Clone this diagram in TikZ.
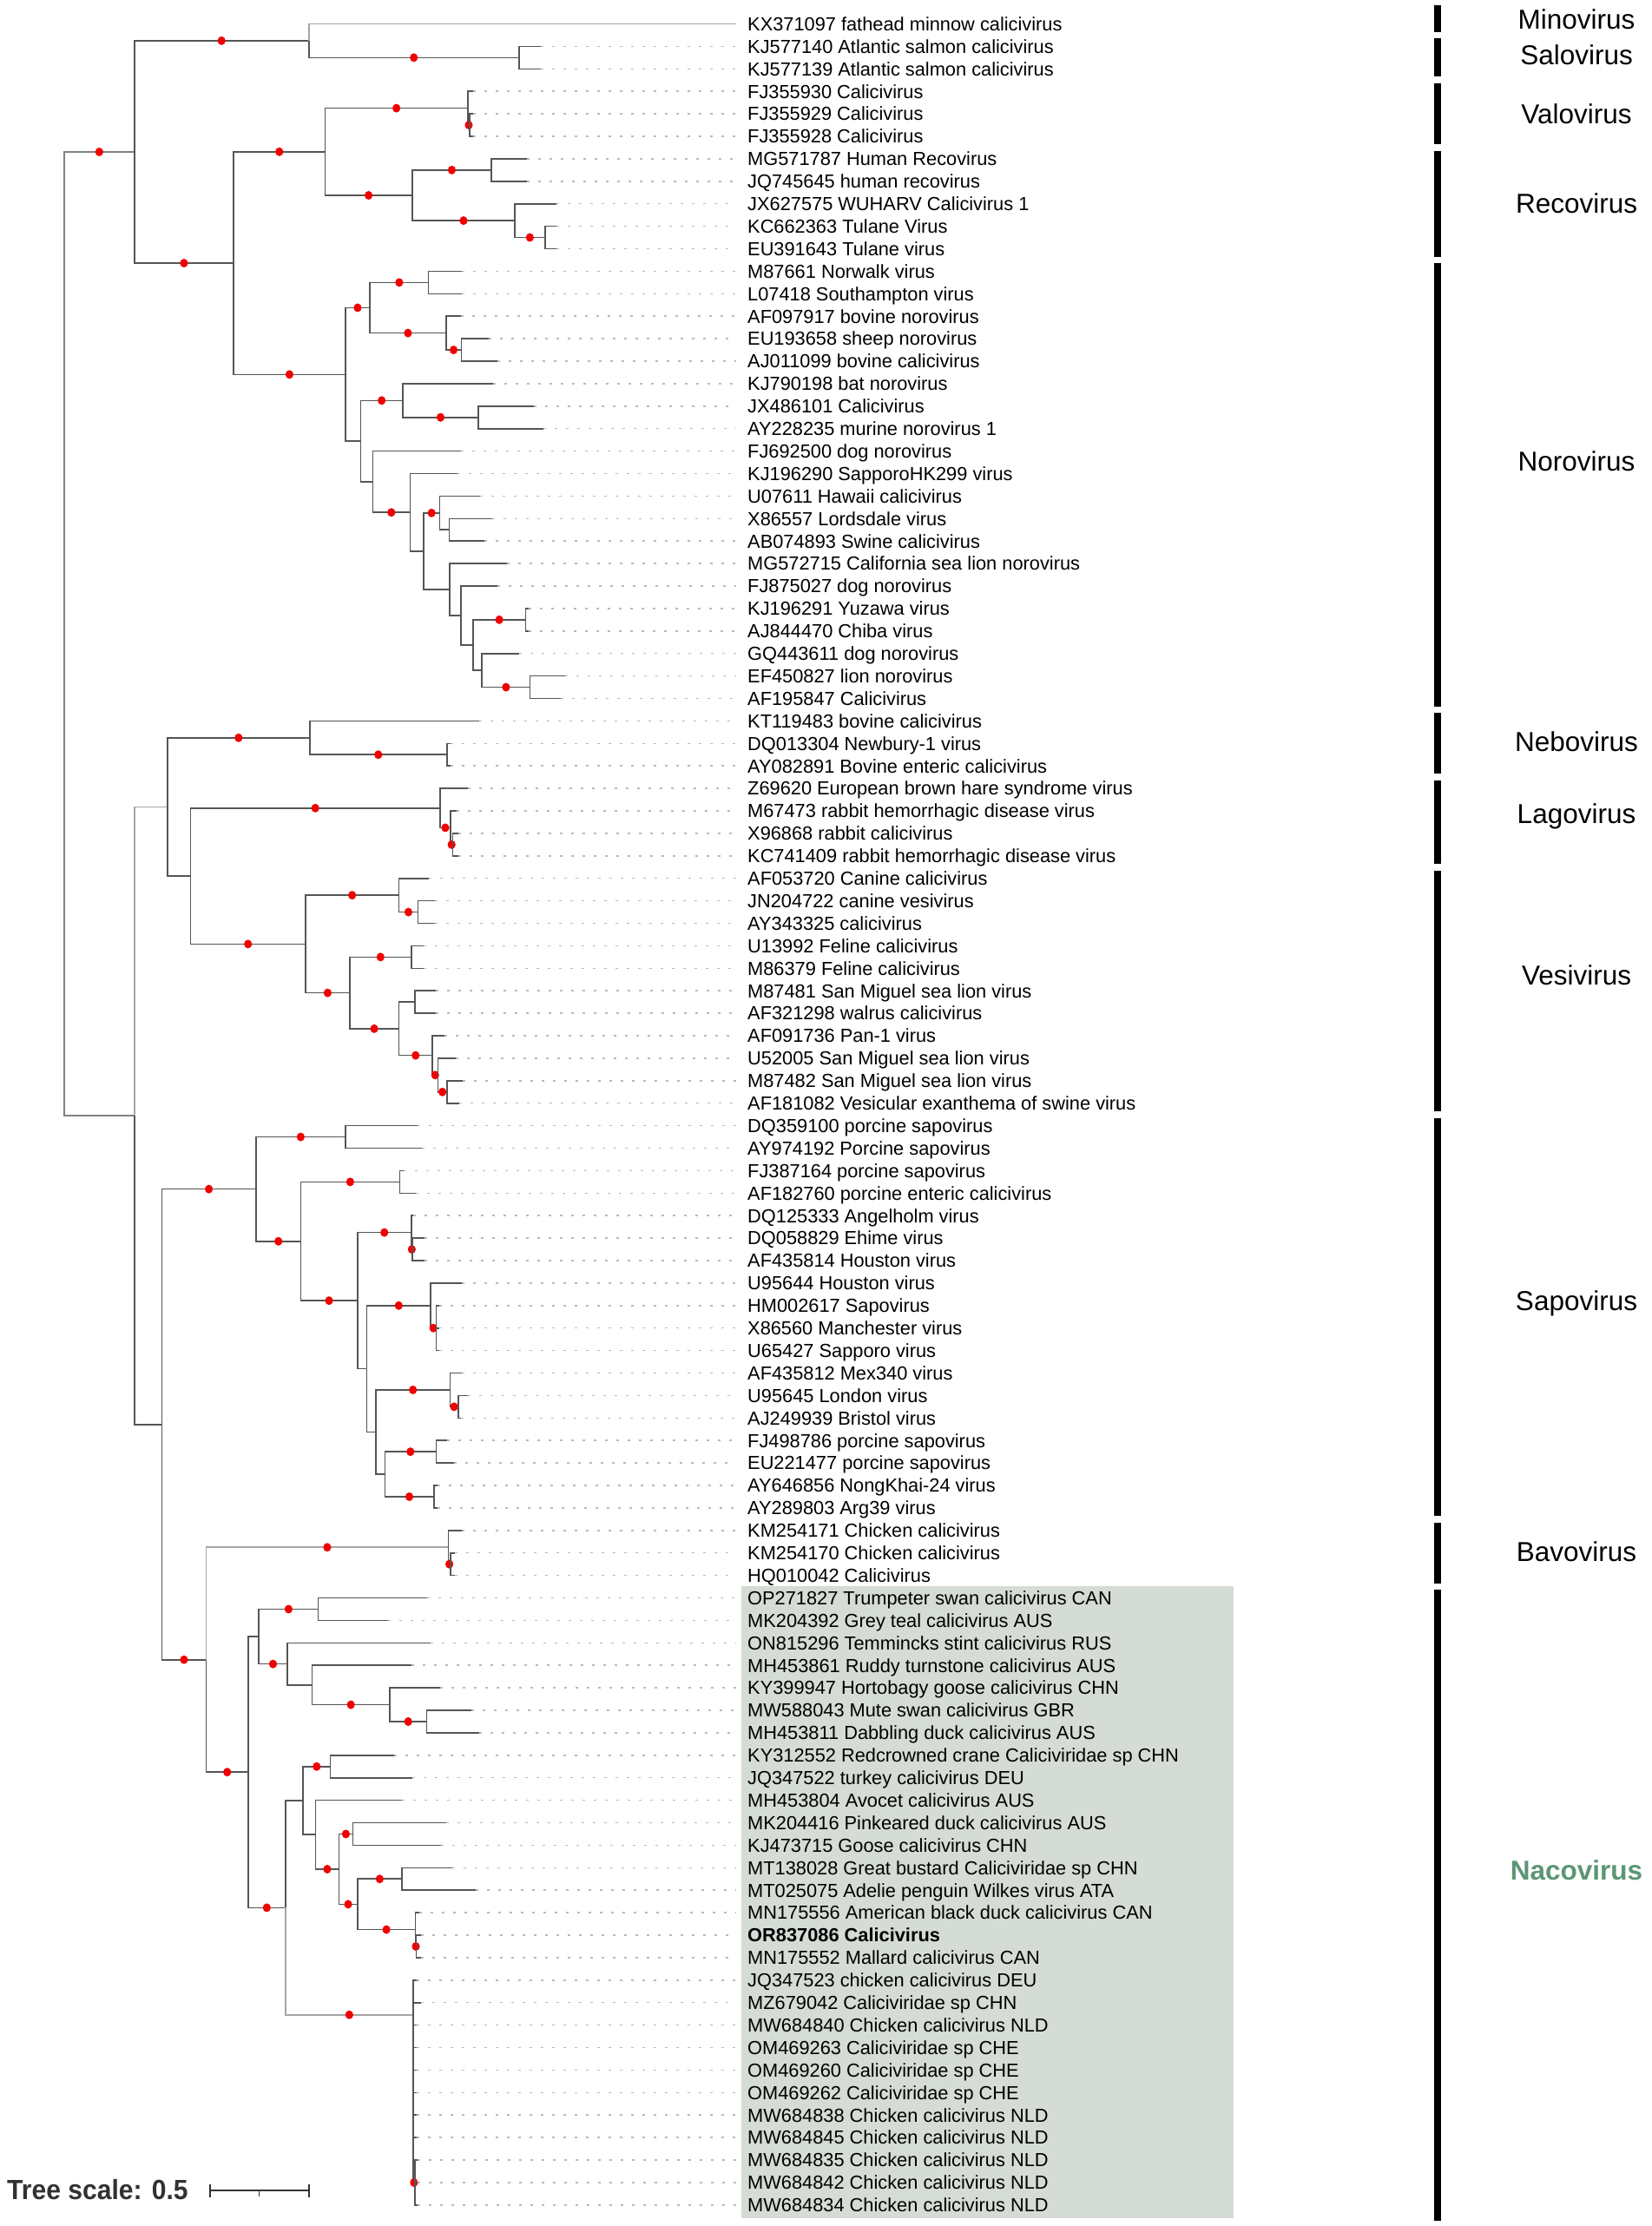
\documentclass[tikz,border=0pt]{standalone}
\usepackage{fontspec}
\setmainfont{Liberation Sans}
\usetikzlibrary{calc}
\definecolor{brc}{RGB}{85,85,85}
\definecolor{brl}{RGB}{165,165,165}
\definecolor{leadc}{RGB}{185,185,185}
\definecolor{boxc}{RGB}{213,219,213}
\definecolor{nacoc}{RGB}{92,150,116}
\definecolor{dotc}{RGB}{240,0,0}
\definecolor{scalec}{RGB}{50,50,50}
\newcommand\tleaf[3]{%
  \coordinate (L#1) at (#2,#1);
  \node[lab] (T#1) at (848,#1) {#3};
  \draw[lead] (L#1) -- (T#1.west);}
\newcommand\inode[4]{\path let \p1=(#3), \p2=(#4) in ({#2pt},{0.5*(\y1+\y2)}) coordinate (#1);}
\newcommand\tbr[3][]{\draw[br,#1] (#2) |- (#3);}
\newcommand\tbrd[3][]{\draw[br,#1] (#2) |- (#3); \fill[dotc] ($(#2 |- #3)!0.5!(#3)$) ellipse (4.6pt and 5pt);}
\newcommand\cladebar[2]{\fill[black] (1652.3,#1) rectangle (1660,#2);}
\begin{document}
\begin{tikzpicture}[x=1pt,y=-25.9pt,
  br/.style={draw=brc,line width=1.6pt},
  light/.style={draw=brl},
  lead/.style={draw=leadc,line width=1.5pt,dash pattern=on 3pt off 10pt},
  lab/.style={anchor=west,inner xsep=13pt,inner ysep=0pt,text height=15.6pt,text depth=0pt,font=\fontsize{21.8}{24}\selectfont},
  clab/.style={anchor=center,inner sep=0pt,text height=22.6pt,text depth=0pt,font=\fontsize{31.5}{34}\selectfont}]
\useasboundingbox (0,-0.0618) rectangle (1902,98.934);
\fill[boxc] (853.7,70.47) rectangle (1421,98.57);
% leaves
\tleaf{1}{848}{KX371097 fathead minnow calicivirus}
\tleaf{2}{622.5}{KJ577140 Atlantic salmon calicivirus}
\tleaf{3}{622.5}{KJ577139 Atlantic salmon calicivirus}
\tleaf{4}{545}{FJ355930 Calicivirus}
\tleaf{5}{545}{FJ355929 Calicivirus}
\tleaf{6}{545}{FJ355928 Calicivirus}
\tleaf{7}{607}{MG571787 Human Recovirus}
\tleaf{8}{607}{JQ745645 human recovirus}
\tleaf{9}{640.7}{JX627575 WUHARV Calicivirus 1}
\tleaf{10}{640.7}{KC662363 Tulane Virus}
\tleaf{11}{640.7}{EU391643 Tulane virus}
\tleaf{12}{531.9}{M87661 Norwalk virus}
\tleaf{13}{531.9}{L07418 Southampton virus}
\tleaf{14}{530.8}{AF097917 bovine norovirus}
\tleaf{15}{563}{EU193658 sheep norovirus}
\tleaf{16}{573.3}{AJ011099 bovine calicivirus}
\tleaf{17}{568}{KJ790198 bat norovirus}
\tleaf{18}{614.8}{JX486101 Calicivirus}
\tleaf{19}{626}{AY228235 murine norovirus 1}
\tleaf{20}{530.8}{FJ692500 dog norovirus}
\tleaf{21}{526.7}{KJ196290 SapporoHK299 virus}
\tleaf{22}{552.6}{U07611 Hawaii calicivirus}
\tleaf{23}{566.6}{X86557 Lordsdale virus}
\tleaf{24}{557.8}{AB074893 Swine calicivirus}
\tleaf{25}{583.7}{MG572715 California sea lion norovirus}
\tleaf{26}{573.3}{FJ875027 dog norovirus}
\tleaf{27}{609}{KJ196291 Yuzawa virus}
\tleaf{28}{609}{AJ844470 Chiba virus}
\tleaf{29}{598}{GQ443611 dog norovirus}
\tleaf{30}{651}{EF450827 lion norovirus}
\tleaf{31}{645.8}{AF195847 Calicivirus}
\tleaf{32}{551.6}{KT119483 bovine calicivirus}
\tleaf{33}{519}{DQ013304 Newbury-1 virus}
\tleaf{34}{519}{AY082891 Bovine enteric calicivirus}
\tleaf{35}{538.6}{Z69620 European brown hare syndrome virus}
\tleaf{36}{525.6}{M67473 rabbit hemorrhagic disease virus}
\tleaf{37}{527.7}{X96868 rabbit calicivirus}
\tleaf{38}{527.7}{KC741409 rabbit hemorrhagic disease virus}
\tleaf{39}{494}{AF053720 Canine calicivirus}
\tleaf{40}{500.8}{JN204722 canine vesivirus}
\tleaf{41}{500.8}{AY343325 calicivirus}
\tleaf{42}{487.8}{U13992 Feline calicivirus}
\tleaf{43}{487.8}{M86379 Feline calicivirus}
\tleaf{44}{502.3}{M87481 San Miguel sea lion virus}
\tleaf{45}{502.3}{AF321298 walrus calicivirus}
\tleaf{46}{512.2}{AF091736 Pan-1 virus}
\tleaf{47}{525}{U52005 San Miguel sea lion virus}
\tleaf{48}{533}{M87482 San Miguel sea lion virus}
\tleaf{49}{529.3}{AF181082 Vesicular exanthema of swine virus}
\tleaf{50}{481}{DQ359100 porcine sapovirus}
\tleaf{51}{486.3}{AY974192 Porcine sapovirus}
\tleaf{52}{464.5}{FJ387164 porcine sapovirus}
\tleaf{53}{478.5}{AF182760 porcine enteric calicivirus}
\tleaf{54}{476}{DQ125333 Angelholm virus}
\tleaf{55}{489.4}{DQ058829 Ehime virus}
\tleaf{56}{489.4}{AF435814 Houston virus}
\tleaf{57}{531.9}{U95644 Houston virus}
\tleaf{58}{506}{HM002617 Sapovirus}
\tleaf{59}{506}{X86560 Manchester virus}
\tleaf{60}{506}{U65427 Sapporo virus}
\tleaf{61}{531.9}{AF435812 Mex340 virus}
\tleaf{62}{539}{U95645 London virus}
\tleaf{63}{531}{AJ249939 Bristol virus}
\tleaf{64}{514.8}{FJ498786 porcine sapovirus}
\tleaf{65}{523}{EU221477 porcine sapovirus}
\tleaf{66}{504}{AY646856 NongKhai-24 virus}
\tleaf{67}{504}{AY289803 Arg39 virus}
\tleaf{68}{531.9}{KM254171 Chicken calicivirus}
\tleaf{69}{524}{KM254170 Chicken calicivirus}
\tleaf{70}{524}{HQ010042 Calicivirus}
\tleaf{71}{491.5}{OP271827 Trumpeter swan calicivirus CAN}
\tleaf{72}{447.4}{MK204392 Grey teal calicivirus AUS}
\tleaf{73}{495.6}{ON815296 Temmincks stint calicivirus RUS}
\tleaf{74}{473.8}{MH453861 Ruddy turnstone calicivirus AUS}
\tleaf{75}{507}{KY399947 Hortobagy goose calicivirus CHN}
\tleaf{76}{543.3}{MW588043 Mute swan calicivirus GBR}
\tleaf{77}{551.6}{MH453811 Dabbling duck calicivirus AUS}
\tleaf{78}{454.1}{KY312552 Redcrowned crane Caliciviridae sp CHN}
\tleaf{79}{474.9}{JQ347522 turkey calicivirus DEU}
\tleaf{80}{463}{MH453804 Avocet calicivirus AUS}
\tleaf{81}{513.7}{MK204416 Pinkeared duck calicivirus AUS}
\tleaf{82}{507.5}{KJ473715 Goose calicivirus CHN}
\tleaf{83}{520.5}{MT138028 Great bustard Caliciviridae sp CHN}
\tleaf{84}{548.4}{MT025075 Adelie penguin Wilkes virus ATA}
\tleaf{85}{483}{MN175556 American black duck calicivirus CAN}
\tleaf{86}{485}{\bfseries OR837086 Calicivirus}
\tleaf{87}{485}{MN175552 Mallard calicivirus CAN}
\tleaf{88}{480}{JQ347523 chicken calicivirus DEU}
\tleaf{89}{485}{MZ679042 Caliciviridae sp CHN}
\tleaf{90}{480}{MW684840 Chicken calicivirus NLD}
\tleaf{91}{480}{OM469263 Caliciviridae sp CHE}
\tleaf{92}{480}{OM469260 Caliciviridae sp CHE}
\tleaf{93}{480}{OM469262 Caliciviridae sp CHE}
\tleaf{94}{480}{MW684838 Chicken calicivirus NLD}
\tleaf{95}{480}{MW684845 Chicken calicivirus NLD}
\tleaf{96}{481}{MW684835 Chicken calicivirus NLD}
\tleaf{97}{481}{MW684842 Chicken calicivirus NLD}
\tleaf{98}{481}{MW684834 Chicken calicivirus NLD}
% internal nodes, upper clade
\inode{Sal}{597.7}{L2}{L3}
\inode{A1}{355.7}{L1}{Sal}
\inode{Val2}{541}{L5}{L6}
\inode{Val}{539}{L4}{Val2}
\inode{R1}{566}{L7}{L8}
\inode{R3}{627.7}{L10}{L11}
\inode{R2}{593}{L9}{R3}
\inode{Rec}{474.9}{R1}{R2}
\inode{A2a}{374.3}{Val}{Rec}
\inode{N1a}{493.5}{L12}{L13}
\inode{N1c}{531.3}{L15}{L16}
\inode{N1b}{513.7}{L14}{N1c}
\inode{N1}{426.2}{N1a}{N1b}
\inode{N2a2}{551}{L18}{L19}
\inode{N2a}{464}{L17}{N2a2}
\inode{N2e2}{517.4}{L23}{L24}
\inode{N2e}{506.5}{L22}{N2e2}
\inode{N2h}{605.4}{L27}{L28}
\inode{N2j}{610.6}{L30}{L31}
\inode{N2i}{555.2}{L29}{N2j}
\inode{N2k}{544.8}{N2h}{N2i}
\inode{N2g}{530.8}{L26}{N2k}
\inode{N2f}{517.9}{L25}{N2g}
\inode{N2d}{487.8}{N2e}{N2f}
\inode{N2c}{472.3}{L21}{N2d}
\inode{N2b}{429.3}{L20}{N2c}
\inode{N2}{415.3}{N2a}{N2b}
\inode{Noro}{397.7}{N1}{N2}
\inode{A2}{269.2}{A2a}{Noro}
\inode{A}{154.7}{A1}{A2}
% lower clade
\inode{Neb2}{514.8}{L33}{L34}
\inode{Neb}{356.7}{L32}{Neb2}
\inode{Lag3}{521.5}{L37}{L38}
\inode{Lag2}{518.9}{L36}{Lag3}
\inode{Lag}{507}{L35}{Lag2}
\inode{V1b}{481.6}{L40}{L41}
\inode{V1}{459.3}{L39}{V1b}
\inode{V2a}{473.8}{L42}{L43}
\inode{V2c}{478}{L44}{L45}
\inode{V2f}{514.8}{L48}{L49}
\inode{V2e}{504.4}{L47}{V2f}
\inode{V2d}{498.2}{L46}{V2e}
\inode{V2b}{459.3}{V2c}{V2d}
\inode{V2}{402.8}{V2a}{V2b}
\inode{Ves}{352}{V1}{V2}
\inode{B1b}{219.4}{Lag}{Ves}
\inode{B1}{193}{Neb}{B1b}
\inode{S1}{397.7}{L50}{L51}
\inode{S2a}{460.4}{L52}{L53}
\inode{S2c2}{474.9}{L55}{L56}
\inode{S2c}{473.8}{L54}{S2c2}
\inode{S3b}{502.3}{L58}{L60}
\inode{S3}{496.1}{L57}{S3b}
\inode{S4a2}{527.7}{L62}{L63}
\inode{S4a}{518.4}{L61}{S4a2}
\inode{S5}{502.3}{L64}{L65}
\inode{S6}{499.7}{L66}{L67}
\inode{S4b}{443.3}{S5}{S6}
\inode{S4}{432.9}{S4a}{S4b}
\inode{S2d}{422.5}{S3}{S4}
\inode{S2b}{411.7}{S2c}{S2d}
\inode{S2}{346.4}{S2a}{S2b}
\inode{Sap}{295}{S1}{S2}
\inode{Bav2}{518.9}{L69}{L70}
\inode{Bav}{516.3}{L68}{Bav2}
\inode{Na1e}{491.5}{L76}{L77}
\inode{Na1d}{449}{L75}{Na1e}
\inode{Na1c}{359.3}{L74}{Na1d}
\inode{Na1b}{330.8}{L73}{Na1c}
\inode{Na1a}{366.6}{L71}{L72}
\inode{Na1}{298.2}{Na1a}{Na1b}
\inode{Na2b}{380.6}{L78}{L79}
\inode{Na2f}{406.5}{L81}{L82}
\inode{Na2h}{463}{L83}{L84}
\inode{Na2j}{479.5}{L86}{L87}
\inode{Na2i}{478.5}{L85}{Na2j}
\inode{Na2g}{411.7}{Na2h}{Na2i}
\inode{Na2d}{390.4}{Na2f}{Na2g}
\inode{Na2c}{363.5}{L80}{Na2d}
\inode{Na2a}{349}{Na2b}{Na2c}
\inode{Na2k}{477.8}{L96}{L98}
\coordinate (Na2e) at (475.9,89.54);
\inode{Na2}{328.8}{Na2a}{Na2e}
\inode{Naco}{285.8}{Na1}{Na2}
\inode{B3}{237.6}{Bav}{Naco}
\inode{B2}{186.3}{Sap}{B3}
\inode{B}{154.7}{B1}{B2}
\inode{root}{74}{A}{B}
% branches
\tbrd[draw=gray]{root}{A}
\tbr[draw=gray]{root}{B}
\tbrd{A}{A1}
\tbr[light]{A1}{L1}
\tbrd{A1}{Sal}
\tbr{Sal}{L2}\tbr{Sal}{L3}
\tbrd{A}{A2}
\tbrd{A2}{A2a}
\tbrd{A2a}{Val}
\tbr{Val}{L4}
\tbrd{Val}{Val2}
\tbr{Val2}{L5}\tbr{Val2}{L6}
\tbrd{A2a}{Rec}
\tbrd{Rec}{R1}
\tbr{R1}{L7}\tbr{R1}{L8}
\tbrd{Rec}{R2}
\tbr{R2}{L9}
\tbrd{R2}{R3}
\tbr{R3}{L10}\tbr{R3}{L11}
\tbrd{A2}{Noro}
\tbrd{Noro}{N1}
\tbrd{N1}{N1a}
\tbr{N1a}{L12}\tbr{N1a}{L13}
\tbrd{N1}{N1b}
\tbr{N1b}{L14}
\tbrd{N1b}{N1c}
\tbr{N1c}{L15}\tbr{N1c}{L16}
\tbr{Noro}{N2}
\tbrd{N2}{N2a}
\tbr{N2a}{L17}
\tbrd{N2a}{N2a2}
\tbr{N2a2}{L18}\tbr{N2a2}{L19}
\tbr{N2}{N2b}
\tbr{N2b}{L20}
\tbrd{N2b}{N2c}
\tbr{N2c}{L21}
\tbr{N2c}{N2d}
\tbrd{N2d}{N2e}
\tbr{N2e}{L22}
\tbr{N2e}{N2e2}
\tbr{N2e2}{L23}\tbr{N2e2}{L24}
\tbr{N2d}{N2f}
\tbr{N2f}{L25}
\tbr{N2f}{N2g}
\tbr{N2g}{L26}
\tbr{N2g}{N2k}
\tbrd{N2k}{N2h}
\tbr{N2h}{L27}\tbr{N2h}{L28}
\tbr{N2k}{N2i}
\tbr{N2i}{L29}
\tbrd{N2i}{N2j}
\tbr{N2j}{L30}\tbr{N2j}{L31}
\tbr[light]{B}{B1}
\tbrd{B1}{Neb}
\tbr{Neb}{L32}
\tbrd{Neb}{Neb2}
\tbr{Neb2}{L33}\tbr{Neb2}{L34}
\tbr{B1}{B1b}
\tbrd{B1b}{Lag}
\tbr{Lag}{L35}
\tbrd{Lag}{Lag2}
\tbr{Lag2}{L36}
\tbrd{Lag2}{Lag3}
\tbr{Lag3}{L37}\tbr{Lag3}{L38}
\tbrd{B1b}{Ves}
\tbrd{Ves}{V1}
\tbr{V1}{L39}
\tbrd{V1}{V1b}
\tbr{V1b}{L40}\tbr{V1b}{L41}
\tbrd{Ves}{V2}
\tbrd{V2}{V2a}
\tbr{V2a}{L42}\tbr{V2a}{L43}
\tbrd{V2}{V2b}
\tbr{V2b}{V2c}
\tbr{V2c}{L44}\tbr{V2c}{L45}
\tbrd{V2b}{V2d}
\tbr{V2d}{L46}
\tbrd{V2d}{V2e}
\tbr{V2e}{L47}
\tbrd{V2e}{V2f}
\tbr{V2f}{L48}\tbr{V2f}{L49}
\tbr{B}{B2}
\tbrd{B2}{Sap}
\tbrd{Sap}{S1}
\tbr{S1}{L50}\tbr{S1}{L51}
\tbrd{Sap}{S2}
\tbrd{S2}{S2a}
\tbr{S2a}{L52}\tbr{S2a}{L53}
\tbrd{S2}{S2b}
\tbrd{S2b}{S2c}
\tbr{S2c}{L54}
\tbrd{S2c}{S2c2}
\tbr{S2c2}{L55}\tbr{S2c2}{L56}
\tbr{S2b}{S2d}
\tbrd{S2d}{S3}
\tbr{S3}{L57}
\tbrd{S3}{S3b}
\tbr{S3b}{L58}\tbr{S3b}{L59}\tbr{S3b}{L60}
\tbr{S2d}{S4}
\tbrd{S4}{S4a}
\tbr{S4a}{L61}
\tbrd{S4a}{S4a2}
\tbr{S4a2}{L62}\tbr{S4a2}{L63}
\tbr{S4}{S4b}
\tbrd{S4b}{S5}
\tbr{S5}{L64}\tbr{S5}{L65}
\tbrd{S4b}{S6}
\tbr{S6}{L66}\tbr{S6}{L67}
\tbrd{B2}{B3}
\tbrd[light]{B3}{Bav}
\tbr{Bav}{L68}
\tbrd{Bav}{Bav2}
\tbr{Bav2}{L69}\tbr{Bav2}{L70}
\tbrd{B3}{Naco}
\tbr{Naco}{Na1}
\tbrd{Na1}{Na1a}
\tbr{Na1a}{L71}\tbr{Na1a}{L72}
\tbrd{Na1}{Na1b}
\tbr{Na1b}{L73}
\tbr{Na1b}{Na1c}
\tbr{Na1c}{L74}
\tbrd{Na1c}{Na1d}
\tbr{Na1d}{L75}
\tbrd{Na1d}{Na1e}
\tbr{Na1e}{L76}\tbr{Na1e}{L77}
\tbrd{Naco}{Na2}
\tbr{Na2}{Na2a}
\tbrd{Na2a}{Na2b}
\tbr{Na2b}{L78}\tbr{Na2b}{L79}
\tbr{Na2a}{Na2c}
\tbr{Na2c}{L80}
\tbrd{Na2c}{Na2d}
\tbrd{Na2d}{Na2f}
\tbr{Na2f}{L81}\tbr{Na2f}{L82}
\tbrd{Na2d}{Na2g}
\tbrd{Na2g}{Na2h}
\tbr{Na2h}{L83}\tbr{Na2h}{L84}
\tbrd{Na2g}{Na2i}
\tbr{Na2i}{L85}
\tbrd{Na2i}{Na2j}
\tbr{Na2j}{L86}\tbr{Na2j}{L87}
\tbrd[light]{Na2}{Na2e}
\foreach \i in {88,...,95} {\tbr{Na2e}{L\i}}
\tbrd{Na2e}{Na2k}
\tbr{Na2k}{L96}\tbr{Na2k}{L97}\tbr{Na2k}{L98}
% clade bars and names
\cladebar{0.17}{1.35}
\cladebar{1.65}{3.35}
\cladebar{3.65}{6.35}
\cladebar{6.65}{11.35}
\cladebar{11.65}{31.35}
\cladebar{31.65}{34.35}
\cladebar{34.65}{38.35}
\cladebar{38.65}{49.35}
\cladebar{49.65}{67.35}
\cladebar{67.65}{70.35}
\cladebar{70.65}{98.7}
\node[clab] (cMino) at (1816,0.78) {Minovirus};
\node[clab] (cSalo) at (1816,2.37) {Salovirus};
\node[clab] (cValo) at (1816,5.0) {Valovirus};
\node[clab] (cReco) at (1816,8.97) {Recovirus};
\node[clab] (cNoro) at (1816,20.44) {Norovirus};
\node[clab] (cNebo) at (1816,32.91) {Nebovirus};
\node[clab] (cLago) at (1816,36.12) {Lagovirus};
\node[clab] (cVesi) at (1816,43.32) {Vesivirus};
\node[clab] (cSapo) at (1816,57.77) {Sapovirus};
\node[clab] (cBavo) at (1816,68.93) {Bavovirus};
\node[clab,text=nacoc,font=\bfseries\fontsize{31.5}{34}\selectfont] (cNaco) at (1816,83.12) {Nacovirus};
% scale
\node[anchor=west,inner sep=0pt,text height=22.9pt,text depth=0pt,text=scalec,font=\bfseries\fontsize{32}{34}\selectfont] (scl) at (8,97.31) {\scalebox{0.94}[1]{Tree scale: 0.5}};
\coordinate (sb1) at (242,97.36);
\coordinate (sb2) at (356,97.36);
\coordinate (sbm) at (298.5,97.36);
\draw[scalec,line width=2.2pt] (sb1) -- (sb2);
\draw[scalec,line width=2.2pt] ($(sb1)+(0,-0.29)$) -- ($(sb1)+(0,0.29)$);
\draw[scalec,line width=2.2pt] ($(sb2)+(0,-0.29)$) -- ($(sb2)+(0,0.29)$);
\draw[scalec,line width=1.6pt] (sbm) -- ($(sbm)+(0,0.27)$);
\end{tikzpicture}
\end{document}
